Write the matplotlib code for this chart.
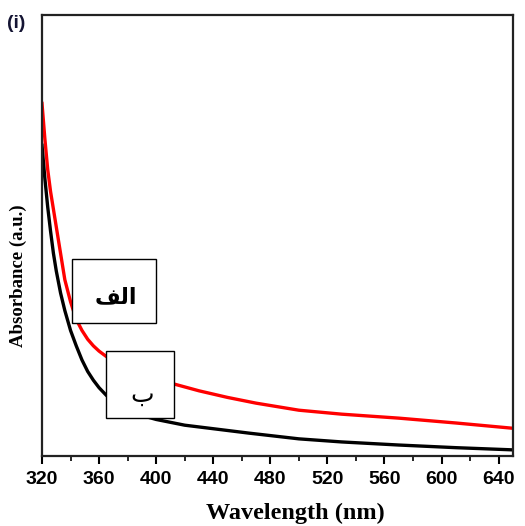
import matplotlib.pyplot as plt
from matplotlib.patches import Rectangle
from matplotlib.ticker import MultipleLocator

wl_red = [320, 322, 324, 326, 328, 330, 333, 336, 340, 344, 348, 352, 356, 360,
          365, 370, 380, 390, 400, 413, 430, 450, 470, 500, 530, 570, 610, 650]
abs_red = [0.80, 0.72, 0.65, 0.60, 0.56, 0.52, 0.46, 0.40, 0.35, 0.31, 0.285, 0.265,
           0.250, 0.238, 0.226, 0.215, 0.198, 0.185, 0.175, 0.163, 0.148, 0.133,
           0.120, 0.104, 0.095, 0.086, 0.075, 0.063]

wl_black = [320, 322, 324, 326, 328, 330, 333, 336, 340, 344, 348, 352, 356, 360,
            365, 370, 380, 390, 400, 420, 440, 465, 500, 530, 570, 610, 650]
abs_black = [0.705, 0.63, 0.565, 0.51, 0.46, 0.42, 0.37, 0.33, 0.285, 0.25, 0.218,
             0.192, 0.172, 0.155, 0.138, 0.123, 0.104, 0.092, 0.083, 0.070, 0.062,
             0.052, 0.039, 0.032, 0.025, 0.019, 0.014]

label_a = "الف"
label_b = "ب"
xticks = [320, 360, 400, 440, 480, 520, 560, 600, 640]


def shape_arabic(s):
    # matplotlib has no arabic shaping, so map to presentation forms, visual order
    forms = {"الف": "\uFED2\uFEDF\uFE8D"}
    return forms.get(s, s)


fig = plt.figure(figsize=(5.25, 5.26), dpi=100)
ax = fig.add_axes([0.08, 0.133, 0.897, 0.838])

ax.plot(wl_red, abs_red, color="#ff0000", lw=2.4, zorder=2)
ax.plot(wl_black, abs_black, color="black", lw=2.4, zorder=2)

ax.set_xlim(320, 650)
ax.set_ylim(0, 1)
ax.set_xticks(xticks)
ax.xaxis.set_minor_locator(MultipleLocator(20))
ax.set_yticks([])
ax.tick_params(axis="x", which="major", direction="out", length=6, width=1.5, pad=5)
ax.tick_params(axis="x", which="minor", direction="out", length=3.5, width=1.2)
for lab in ax.get_xticklabels():
    lab.set_fontfamily("Liberation Sans")
    lab.set_fontweight("bold")
    lab.set_fontsize(14)
for sp in ax.spines.values():
    sp.set_linewidth(1.6)
    sp.set_color("#222222")

ax.set_xlabel("Wavelength (nm)", family="Liberation Serif", weight="bold",
              fontsize=17.5)
ax.xaxis.set_label_coords(0.537, -0.106)
ax.set_ylabel("Absorbance (a.u.)", family="Liberation Serif", weight="bold",
              fontsize=13.5)
ax.yaxis.set_label_coords(-0.032, 0.41)

fig.text(0.014, 0.946, "(i)", family="Liberation Sans", weight="bold",
         fontsize=14, color="#141433")

# boxes with arabic labels (axes coords)
ax.add_patch(Rectangle((0.063, 0.301), 0.180, 0.145, transform=ax.transAxes,
                       facecolor="white", edgecolor="black", lw=1, zorder=3))
ax.text(0.157, 0.36, shape_arabic(label_a), transform=ax.transAxes,
        family="DejaVu Sans", weight="bold", fontsize=16, ha="center",
        va="center", zorder=4)
ax.add_patch(Rectangle((0.135, 0.086), 0.146, 0.152, transform=ax.transAxes,
                       facecolor="white", edgecolor="black", lw=1, zorder=3))
ax.text(0.212, 0.14, shape_arabic(label_b), transform=ax.transAxes,
        family="DejaVu Sans", fontsize=18, ha="center", va="center", zorder=4)

fig.savefig("out.png", dpi=100)
